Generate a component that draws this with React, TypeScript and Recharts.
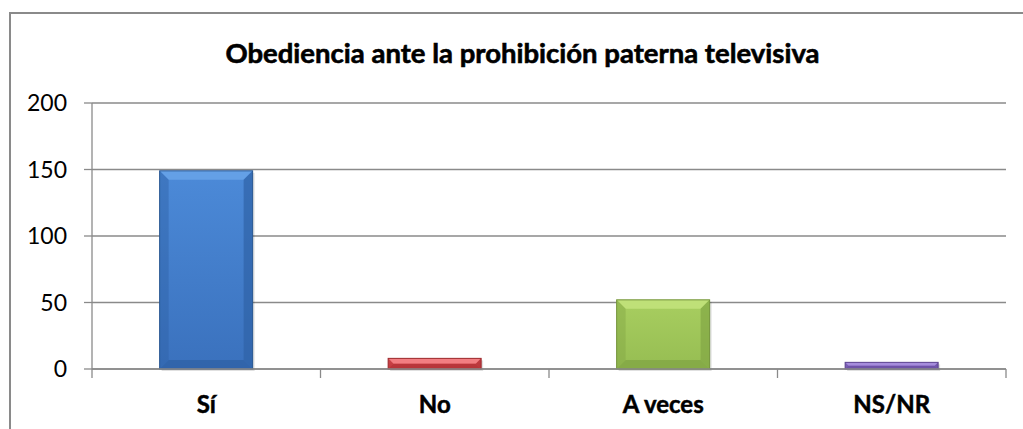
import { Bar, BarChart, CartesianGrid, Cell, XAxis, YAxis } from "recharts";

// respuestas a "¿obedeces cuando tus padres te prohíben ver la tele?"
const categories = ["Sí", "No", "A veces", "NS/NR"];
const respuestas = [149, 8, 52, 5];
const yTicks = [0, 50, 100, 150, 200];

const data = categories.map((name, i) => ({ name, value: respuestas[i] }));

const AXIS = "#8a8a8a";
const FONT = "Lato, 'Open Sans', sans-serif";

// estilo bisel de Office 2007
const PALETTE = [
  { id: "azul", top: "#4c8ad8", bottom: "#3a71bd", light: "#64a0e6", dark: "#2f62a6", edge: "#2a5892" },
  { id: "rojo", top: "#e0555a", bottom: "#cf3f44", light: "#f27e82", dark: "#b13237", edge: "#9c2b2f" },
  { id: "verde", top: "#a8ce60", bottom: "#96bd52", light: "#bfe078", dark: "#82a645", edge: "#74943b" },
  { id: "morado", top: "#8f72cb", bottom: "#7c60b8", light: "#a68ddc", dark: "#6a4fa3", edge: "#5d4590" },
];

function BevelBar(props: any) {
  const { x, y, width: w, height: h, index } = props;
  if (!h || h <= 0) return null;
  const c = PALETTE[index % PALETTE.length];
  const b = Math.min(9, h / 2, w / 2);
  return (
    <g>
      <rect x={x + 2} y={y + 2} width={w} height={h} fill="#000" opacity={0.12} />
      <rect x={x} y={y} width={w} height={h} fill={`url(#grad-${c.id})`} />
      <polygon points={`${x},${y} ${x + w},${y} ${x + w - b},${y + b} ${x + b},${y + b}`} fill={c.light} />
      <polygon points={`${x},${y} ${x + b},${y + b} ${x + b},${y + h - b} ${x},${y + h}`} fill={c.dark} opacity={0.45} />
      <polygon points={`${x + w},${y} ${x + w - b},${y + b} ${x + w - b},${y + h - b} ${x + w},${y + h}`} fill={c.dark} opacity={0.7} />
      <polygon points={`${x},${y + h} ${x + b},${y + h - b} ${x + w - b},${y + h - b} ${x + w},${y + h}`} fill={c.dark} opacity={0.8} />
      <rect x={x} y={y} width={w} height={h} fill="none" stroke={c.edge} strokeWidth={1} />
    </g>
  );
}

function CategoryTick(props: any) {
  const { x, y, payload, index, visibleTicksCount } = props;
  const half = payload?.offset ?? 0;
  const last = index === visibleTicksCount - 1;
  return (
    <g>
      <line x1={x - half} x2={x - half} y1={y} y2={y + 9} stroke={AXIS} strokeWidth={1.3} />
      {last && <line x1={x + half} x2={x + half} y1={y} y2={y + 9} stroke={AXIS} strokeWidth={1.3} />}
      <text
        x={x}
        y={y + 44}
        textAnchor="middle"
        fontSize={24}
        fontWeight={700}
        fill="#000"
        stroke="#000"
        strokeWidth={0.5}
        fontFamily={FONT}
      >
        {payload.value}
      </text>
    </g>
  );
}

export default function App() {
  return (
    <div style={{ position: "absolute", left: 0, top: 0, width: 1023, height: 429, overflow: "hidden", background: "#fff" }}>
      <div style={{ position: "absolute", left: 9, top: 12, width: 1040, height: 440, border: "2px solid #8a8a8a", boxSizing: "border-box" }} />
      <svg width={1023} height={429} style={{ position: "absolute", left: 0, top: 0 }}>
        <text
          x={522.5}
          y={63}
          textAnchor="middle"
          fontSize={27.5}
          fontWeight={700}
          fontFamily={FONT}
          fill="#000"
          stroke="#000"
          strokeWidth={0.6}
        >
          Obediencia ante la prohibición paterna televisiva
        </text>
      </svg>
      <div style={{ position: "absolute", left: 0, top: 0 }}>
        <BarChart
          width={1023}
          height={429}
          data={data}
          margin={{ top: 103, right: 17, bottom: 10, left: 0 }}
          barCategoryGap="29.6%"
          style={{ fontFamily: FONT }}
        >
          <defs>
            {PALETTE.map((c) => (
              <linearGradient key={c.id} id={`grad-${c.id}`} x1="0" y1="0" x2="0" y2="1">
                <stop offset="0%" stopColor={c.top} />
                <stop offset="100%" stopColor={c.bottom} />
              </linearGradient>
            ))}
          </defs>
          <CartesianGrid vertical={false} stroke={AXIS} strokeWidth={1.3} />
          <XAxis
            dataKey="name"
            height={50}
            axisLine={{ stroke: AXIS, strokeWidth: 1.3 }}
            tickLine={false}
            tickSize={0}
            tickMargin={0}
            tick={<CategoryTick />}
            interval={0}
          />
          <YAxis
            width={92}
            domain={[0, 200]}
            ticks={yTicks}
            interval={0}
            axisLine={{ stroke: AXIS, strokeWidth: 1.3 }}
            tickLine={{ stroke: AXIS, strokeWidth: 1.3 }}
            tickSize={8}
            tickMargin={17}
            tick={{ fontSize: 23, fill: "#000", fontFamily: FONT }}
          />
          <Bar dataKey="value" shape={<BevelBar />} isAnimationActive={false}>
            {data.map((d, i) => (
              <Cell key={d.name} fill={PALETTE[i].top} />
            ))}
          </Bar>
        </BarChart>
      </div>
    </div>
  );
}
